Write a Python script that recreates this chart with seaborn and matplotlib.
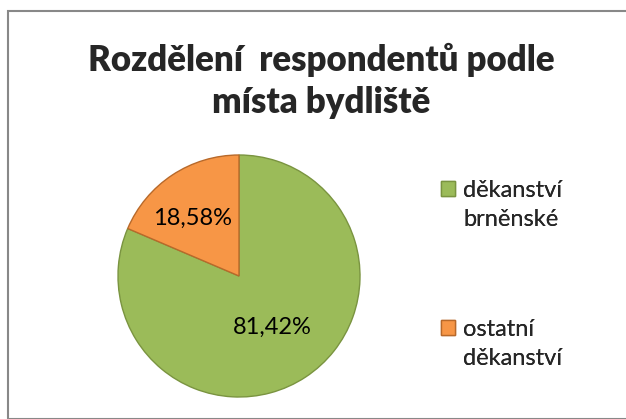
import matplotlib
matplotlib.use("Agg")
import matplotlib.pyplot as plt
import seaborn as sns
from matplotlib.patches import Rectangle

sns.set_theme(style="white")
plt.rcParams['font.family'] = ['Lato', 'DejaVu Sans']

categories = ["děkanství\nbrněnské", "ostatní\nděkanství"]
values = [81.42, 18.58]
value_labels = ["81,42%", "18,58%"]
colors = ["#9BBB59", "#F79646"]
edge_colors = ["#7a9440", "#b8692a"]
title = "Rozdělení  respondentů podle\nmísta bydliště"

W, H = 626, 419
fig = plt.figure(figsize=(W / 100, H / 100), dpi=100)
fig.patch.set_facecolor("white")

# outer border
fig.patches.append(Rectangle((8 / W, 0), 1 - 8 / W + 0.01, 1 - 11 / H,
                             transform=fig.transFigure, fill=False,
                             edgecolor="#888888", linewidth=1.5))

fig.text(321 / W, 1 - 81 / H, title, ha="center", va="center",
         fontsize=25, fontweight="heavy", linespacing=1.32)

cx, cy, r = 239, 276, 121
ax = fig.add_axes([(cx - r) / W, 1 - (cy + r) / H, 2 * r / W, 2 * r / H])
wedges, _ = ax.pie(values, colors=colors, startangle=90, counterclock=False,
                   wedgeprops=dict(linewidth=1.0))
for w, ec in zip(wedges, edge_colors):
    w.set_edgecolor(ec)
ax.set_xlim(-1, 1)
ax.set_ylim(-1, 1)
ax.set_aspect("equal")
ax.axis("off")

# value labels
def px2data(px, py):
    return ((px - cx) / r, -(py - cy) / r)

for (px, py), lab in zip([(272, 327), (193, 218)], value_labels):
    x, y = px2data(px, py)
    ax.text(x, y, lab, ha="center", va="center", fontsize=17, color="black")

# legend: one block per category, marker on the first line
blank = Rectangle((0, 0), 1, 1, facecolor="none", edgecolor="none")
legend_tops = [168, 307]
for cat, c, e, top in zip(categories, colors, edge_colors, legend_tops):
    lines = cat.split("\n")
    handles = [Rectangle((0, 0), 1, 1, facecolor=c, edgecolor=e)] + [blank] * (len(lines) - 1)
    leg = fig.legend(handles, lines, loc="upper left",
                     bbox_to_anchor=(429 / W, 1 - top / H), frameon=False,
                     fontsize=17, handlelength=0.6, handleheight=0.6,
                     handletextpad=0.35, labelspacing=0.36, borderpad=0)
    fig.add_artist(leg)

fig.savefig("out.png", dpi=100, facecolor="white")
